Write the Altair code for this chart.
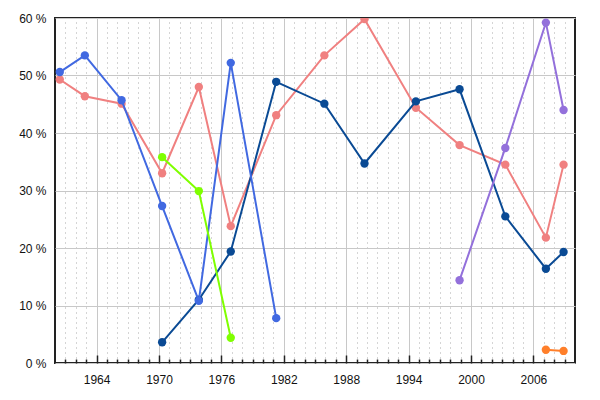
import altair as alt
import pandas as pd

# Election dates (fractional years) and vote shares (%) per party
dates = [1960.46, 1962.87, 1966.4, 1970.3, 1973.83, 1976.9, 1981.27,
         1985.9, 1989.76, 1994.7, 1998.9, 2003.3, 2007.2, 2008.9]

salmon = [49.3, 46.4, 45.1, 33.0, 48.0, 23.8, 43.1,
          53.5, 59.8, 44.4, 37.9, 34.5, 21.8, 34.5]
darkblue = [None, None, None, 3.6, 11.0, 19.4, 48.9,
            45.1, 34.7, 45.5, 47.6, 25.5, 16.4, 19.3]
royalblue = [50.6, 53.5, 45.7, 27.3, 10.8, 52.2, 7.8,
             None, None, None, None, None, None, None]
green = [None, None, None, 35.8, 29.9, 4.4, None,
         None, None, None, None, None, None, None]
purple = [None, None, None, None, None, None, None,
          None, None, None, 14.4, 37.4, 59.2, 44.0]
orange = [None, None, None, None, None, None, None,
          None, None, None, None, None, 2.3, 2.1]

series_names = ["A", "B", "C", "D", "E", "F"]
series_values = [salmon, darkblue, royalblue, green, purple, orange]
series_colors = ["#F08080", "#0A4A94", "#4169E1", "#7FFF00", "#9370DB", "#FF7F2A"]

major_years = [1964, 1970, 1976, 1982, 1988, 1994, 2000, 2006]
all_years = list(range(1961, 2010))
y_ticks = [0, 10, 20, 30, 40, 50, 60]

rows = []
for i, (name, vals) in enumerate(zip(series_names, series_values)):
    for d, v in zip(dates, vals):
        if v is not None:
            rows.append({"series": name, "k": i, "year": d, "value": v})
df = pd.DataFrame(rows)

color = alt.Color("series:N", scale=alt.Scale(domain=series_names, range=series_colors),
                  legend=None)
xscale = alt.Scale(domain=[1960, 2010], nice=False, zero=False)
yscale = alt.Scale(domain=[0, 60], nice=False)
FONT = "Liberation Sans"

yaxis = alt.Axis(values=y_ticks, labelExpr="datum.value + ' %'", title=None,
                 tickSize=0, domain=False, gridColor="#c8c8c8", gridWidth=1,
                 labelFont=FONT, labelFontSize=12, labelColor="#111",
                 labelPadding=9)

xaxis_major = alt.Axis(values=major_years, format="d", title=None, tickSize=0,
                       domain=False, grid=True, gridColor="#c8c8c8", gridWidth=1,
                       labelFont=FONT, labelFontSize=12, labelColor="#111",
                       labelPadding=11)

xaxis_minor = alt.Axis(orient="top", offset=-345, values=all_years, labels=False,
                       title=None, domain=False, grid=True,
                       tickColor="#222", tickWidth=1.5,
                       tickSize={"condition": {"test": "datum.value % 6 == 2", "value": 8},
                                 "value": 4},
                       gridColor="#aaaaaa", gridDash=[1, 4], gridWidth=1,
                       gridOpacity={"condition": {"test": "datum.value % 6 == 2", "value": 0},
                                    "value": 1})


def line_layer(name, xaxis):
    return alt.Chart(df).transform_filter(alt.datum.series == name).mark_line(
        strokeWidth=2, clip=True).encode(
        x=alt.X("year:Q", scale=xscale, axis=xaxis),
        y=alt.Y("value:Q", scale=yscale, axis=yaxis),
        color=color,
    )


def point_layer(name, xaxis):
    return alt.Chart(df).transform_filter(alt.datum.series == name).mark_circle(
        size=70, opacity=1, clip=True).encode(
        x=alt.X("year:Q", scale=xscale, axis=xaxis),
        y=alt.Y("value:Q", scale=yscale, axis=yaxis),
        color=color,
    )


layers = []
for idx, name in enumerate(series_names):
    if idx == 0:
        layers.append(line_layer(name, xaxis_major))
        layers.append(point_layer(name, xaxis_minor))
    else:
        layers.append(line_layer(name, None))
        layers.append(point_layer(name, None))

chart = alt.layer(*layers).resolve_axis(x="independent").properties(
    width=520, height=345,
    autosize=alt.AutoSizeParams(type="none"),
    padding={"left": 47, "top": 10, "right": 17, "bottom": 30},
).configure_view(stroke="#222", strokeWidth=2)

chart.save("out.html", embed_options={"renderer": "svg", "actions": False})
